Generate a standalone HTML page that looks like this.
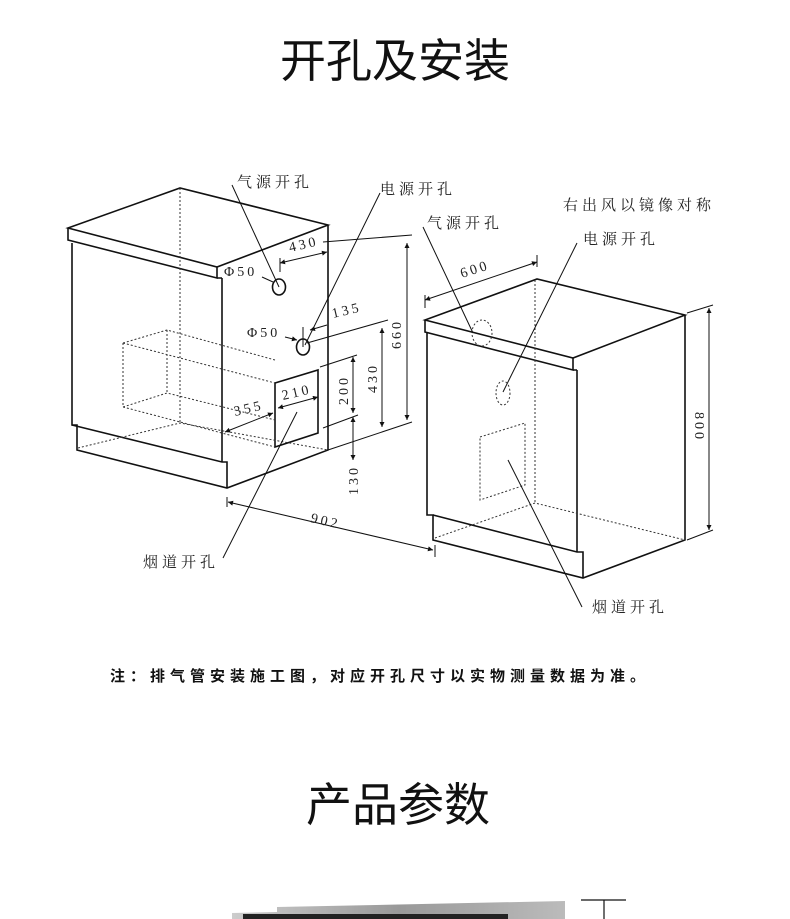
<!DOCTYPE html>
<html><head><meta charset="utf-8"><style>
html,body{margin:0;padding:0;background:#fff;}
svg{display:block}
.t{font-family:"Liberation Sans","Noto Sans CJK SC",sans-serif}
.c{font-family:"Liberation Serif","Noto Serif CJK SC","Noto Sans CJK SC",serif;font-size:15px;fill:#222;letter-spacing:4px}
.n{font-family:"Liberation Serif",serif;font-size:14px;fill:#222;letter-spacing:3px}
</style></head><body>
<svg width="790" height="919" viewBox="0 0 790 919" xmlns="http://www.w3.org/2000/svg">
<defs><marker id="a" viewBox="0 0 10 10" refX="10" refY="5" markerWidth="7" markerHeight="5" orient="auto-start-reverse"><path d="M0,0L10,5L0,10z" fill="#111"/></marker></defs>
<text x="395" y="77" text-anchor="middle" class="t" font-size="46" fill="#111">开孔及安装</text>
<g stroke="#111" stroke-width="1.6" fill="none">
<path d="M68,228L180,188L328,225L217,267Z"/>
<path d="M68,228L68,240L217,278L217,267M217,278L222,278"/>
<path d="M72,243L72,425L77,425L77,450L227,488L328,450L328,225"/>
<path d="M72,425L222,462L227,462L227,488M222,278L222,462"/>
<path d="M275,383L318,370L318,433L275,447Z"/>
<ellipse cx="279" cy="287" rx="6.5" ry="8"/>
<ellipse cx="303" cy="347" rx="6.5" ry="8"/>
</g>
<g stroke="#333" stroke-width="1" fill="none" stroke-dasharray="2,2">
<path d="M180,188L180,423M78,448L180,423L328,450"/>
<path d="M123,343L167,330L275,360M123,343L123,407L167,393L275,420M167,330L167,393M123,343L275,383M123,407L275,447"/>
</g>
<g stroke="#111" stroke-width="1" fill="none">
<path d="M232,185L279,287M380,193L305,345M223,558L297,412"/>
<path d="M323,242L412,235M328,450L412,422M307,343L388,320M320,367L357,355M323,428L358,415"/>
<path d="M407,243L407,420" marker-start="url(#a)" marker-end="url(#a)"/>
<path d="M382,328L382,427" marker-start="url(#a)" marker-end="url(#a)"/>
<path d="M353,357L353,413" marker-start="url(#a)" marker-end="url(#a)"/>
<path d="M353,417L353,460" marker-start="url(#a)" marker-end="url(#a)"/>
<path d="M228,502L433,550" marker-start="url(#a)" marker-end="url(#a)"/>
<path d="M227,497L227,507M435,545L435,557M280,258L280,272M303,327L303,347"/>
<path d="M280,263L327,252" marker-start="url(#a)" marker-end="url(#a)"/>
<path d="M327,325L310,330" marker-end="url(#a)"/>
<path d="M278,408L318,397" marker-start="url(#a)" marker-end="url(#a)"/>
<path d="M225,432L273,413" marker-start="url(#a)" marker-end="url(#a)"/>
<path d="M262,277L273,282M285,337L297,340" marker-end="url(#a)"/>
</g>
<text x="237" y="187" class="c">气源开孔</text>
<text x="380" y="194" class="c">电源开孔</text>
<text x="143" y="567" class="c">烟道开孔</text>
<text x="290" y="252" class="n" transform="rotate(-13 290 252)">430</text>
<text x="224" y="276" class="n">Φ50</text>
<text x="247" y="337" class="n">Φ50</text>
<text x="333" y="318" class="n" transform="rotate(-13 333 318)">135</text>
<text x="283" y="400" class="n" transform="rotate(-13 283 400)">210</text>
<text x="235" y="416" class="n" transform="rotate(-13 235 416)">355</text>
<text x="310" y="522" class="n" transform="rotate(13 310 522)">902</text>
<text x="0" y="0" class="n" transform="translate(401,349) rotate(-90)">660</text>
<text x="0" y="0" class="n" transform="translate(377,393) rotate(-90)">430</text>
<text x="0" y="0" class="n" transform="translate(348,405) rotate(-90)">200</text>
<text x="0" y="0" class="n" transform="translate(358,495) rotate(-90)">130</text>
<!-- right cabinet -->
<g stroke="#111" stroke-width="1.6" fill="none">
<path d="M425,320L537,279L685,315L573,358Z"/>
<path d="M425,320L425,332L573,370L573,358M573,370L577,370"/>
<path d="M427,333L427,515L433,515L433,540L583,578L685,540L685,315"/>
<path d="M433,515L577,552L583,552L583,578M577,370L577,552"/>
</g>
<g stroke="#333" stroke-width="1" fill="none" stroke-dasharray="2,2">
<path d="M535,280L535,503M435,538L535,503L685,540"/>
<ellipse cx="482" cy="333" rx="10" ry="13"/>
<ellipse cx="503" cy="393" rx="7" ry="12"/>
<path d="M480,437L525,423L525,485L480,500Z"/>
</g>
<g stroke="#111" stroke-width="1" fill="none">
<path d="M423,227L473,333M577,243L503,392M508,460L582,607"/>
<path d="M687,313L713,305M687,540L713,530M425,295L425,308M537,255L537,267"/>
<path d="M709,308L709,530" marker-start="url(#a)" marker-end="url(#a)"/>
<path d="M425,300L537,262" marker-start="url(#a)" marker-end="url(#a)"/>
</g>
<text x="427" y="228" class="c">气源开孔</text>
<text x="563" y="210" class="c">右出风以镜像对称</text>
<text x="583" y="244" class="c">电源开孔</text>
<text x="592" y="612" class="c">烟道开孔</text>
<text x="462" y="278" class="n" transform="rotate(-18 462 278)">600</text>
<text x="0" y="0" class="n" transform="translate(695,412) rotate(90)">800</text>
<text x="110" y="681" class="t" font-size="15" font-weight="bold" fill="#111" letter-spacing="5">注：排气管安装施工图，对应开孔尺寸以实物测量数据为准。</text>
<text x="398" y="821" text-anchor="middle" class="t" font-size="46" fill="#111">产品参数</text>
<defs><linearGradient id="g" x1="0" y1="0" x2="1" y2="0"><stop offset="0" stop-color="#ccc"/><stop offset="0.5" stop-color="#999"/><stop offset="1" stop-color="#bbb"/></linearGradient></defs>
<path d="M277,907L565,901L565,919L232,919L232,913L277,912Z" fill="url(#g)"/>
<rect x="243" y="914" width="265" height="5" fill="#222"/>
<path d="M581,900L626,900M604,900L604,919" stroke="#111" stroke-width="1.2"/>
</svg>
</body></html>
